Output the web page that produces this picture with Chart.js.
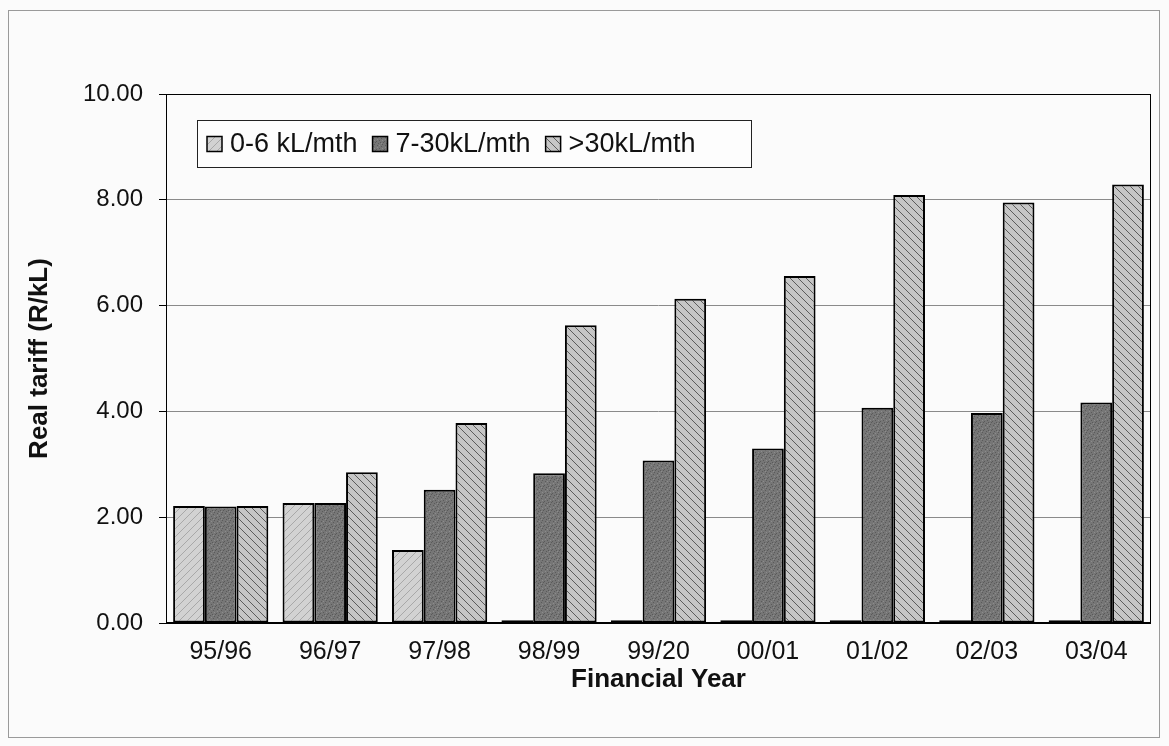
<!DOCTYPE html>
<html>
<head>
<meta charset="utf-8">
<script src="https://cdn.jsdelivr.net/npm/chart.js@4/dist/chart.umd.min.js"></script>
<style>
  html, body { margin: 0; padding: 0; background: #fbfbfb; }
  #wrap { width: 1169px; height: 746px; position: relative; }
</style>
</head>
<body>
<div id="wrap"><canvas id="c" width="1169" height="746"></canvas></div>
<script>
// Financial years and real tariff per consumption block (R/kL)
const years = ['95/96', '96/97', '97/98', '98/99', '99/20', '00/01', '01/02', '02/03', '03/04'];
const block0to6 = [2.21, 2.27, 1.38, 0.05, 0.05, 0.05, 0.05, 0.05, 0.05];
const block7to30 = [2.20, 2.27, 2.52, 2.83, 3.07, 3.30, 4.07, 3.97, 4.17];
const blockOver30 = [2.21, 2.85, 3.78, 5.63, 6.13, 6.56, 8.09, 7.95, 8.29];
const seriesNames = ['0-6 kL/mth', '7-30kL/mth', '>30kL/mth'];
const yTicks = [0, 2, 4, 6, 8, 10];

const FONT = '"Liberation Sans", Arial, sans-serif';

// Fill textures for the three bar series
function makePattern(kind) {
  const s = 8;
  const pc = document.createElement('canvas');
  pc.width = s; pc.height = s;
  const g = pc.getContext('2d');
  if (kind === 0) {
    g.fillStyle = '#d2d2d2'; g.fillRect(0, 0, s, s);
    g.strokeStyle = '#a8a8a8'; g.lineWidth = 1;
    g.beginPath(); g.moveTo(0, s); g.lineTo(s, 0); g.stroke();
  } else if (kind === 1) {
    g.fillStyle = '#767676'; g.fillRect(0, 0, s, s);
    const dots = [[1,1],[5,2],[3,4],[7,6],[2,7],[6,0],[0,5],[4,6]];
    g.fillStyle = '#5a5a5a';
    dots.forEach(([x, y]) => g.fillRect(x, y, 1, 1));
    g.fillStyle = '#8c8c8c';
    [[3,1],[6,4],[1,3],[5,7]].forEach(([x, y]) => g.fillRect(x, y, 1, 1));
  } else {
    g.fillStyle = '#c6c6c6'; g.fillRect(0, 0, s, s);
    g.strokeStyle = '#5c5c5c'; g.lineWidth = 1;
    g.beginPath(); g.moveTo(0, 0); g.lineTo(s, s); g.stroke();
    g.beginPath(); g.moveTo(-s / 2, s / 2); g.lineTo(s / 2, s * 1.5); g.stroke();
    g.beginPath(); g.moveTo(s / 2, -s / 2); g.lineTo(s * 1.5, s / 2); g.stroke();
  }
  return document.getElementById('c').getContext('2d').createPattern(pc, 'repeat');
}

const fills = [makePattern(0), makePattern(1), makePattern(2)];

// Outer frame, plot border and the boxed legend inside the plot area
const framePlugin = {
  id: 'frame',
  beforeDraw(chart) {
    const ctx = chart.ctx;
    ctx.save();
    ctx.fillStyle = '#fbfbfb';
    ctx.fillRect(0, 0, chart.width, chart.height);
    ctx.strokeStyle = '#9a9a9a';
    ctx.lineWidth = 1;
    ctx.strokeRect(8.5, 10.5, 1151, 727);
    ctx.restore();
  },
  afterDraw(chart) {
    const ctx = chart.ctx;
    const a = chart.chartArea;
    ctx.save();
    ctx.strokeStyle = '#000';
    ctx.lineWidth = 1;
    ctx.strokeRect(a.left + 0.5, a.top + 0.5, a.right - a.left - 1, a.bottom - a.top);
    ctx.lineWidth = 2;
    ctx.beginPath(); ctx.moveTo(a.left, a.bottom); ctx.lineTo(a.right, a.bottom); ctx.stroke();

    const bx = 197, by = 120, bw = 554, bh = 47;
    ctx.fillStyle = '#fdfdfd';
    ctx.fillRect(bx, by, bw, bh);
    ctx.lineWidth = 1;
    ctx.strokeStyle = '#222';
    ctx.strokeRect(bx + 0.5, by + 0.5, bw, bh);
    ctx.font = '27px ' + FONT;
    ctx.textBaseline = 'middle';
    let x = bx + 10;
    const cy = by + bh / 2 + 1;
    chart.data.datasets.forEach((ds) => {
      ctx.fillStyle = ds.backgroundColor;
      ctx.fillRect(x, cy - 8, 15, 15);
      ctx.strokeStyle = '#000';
      ctx.lineWidth = 1.5;
      ctx.strokeRect(x, cy - 8, 15, 15);
      x += 23;
      ctx.fillStyle = '#111';
      ctx.fillText(ds.label, x, cy);
      x += ctx.measureText(ds.label).width + 15;
    });
    ctx.restore();
  }
};

new Chart(document.getElementById('c'), {
  type: 'bar',
  data: {
    labels: years,
    datasets: [block0to6, block7to30, blockOver30].map((vals, i) => ({
      label: seriesNames[i],
      data: vals,
      backgroundColor: fills[i],
      borderColor: '#000',
      borderWidth: 2,
      borderSkipped: false,
      categoryPercentage: 0.87,
      barPercentage: 1.0
    }))
  },
  options: {
    responsive: false,
    animation: false,
    devicePixelRatio: 1,
    layout: { padding: { top: 94, right: 18, left: 0, bottom: 0 } },
    plugins: {
      legend: { display: false },
      tooltip: { enabled: false }
    },
    scales: {
      x: {
        grid: { display: false, drawTicks: false },
        border: { display: false },
        ticks: { color: '#111', font: { family: FONT, size: 25 }, padding: 14, maxRotation: 0 },
        title: {
          display: true, text: 'Financial Year', color: '#111',
          font: { family: FONT, size: 26, weight: 'bold' }, padding: { top: 0, bottom: 51 }
        },
        afterFit(s) { s.height = 746 - 623; }
      },
      y: {
        min: 0, max: 10,
        afterBuildTicks(s) { s.ticks = yTicks.map(v => ({ value: v })); },
        grid: {
          color: '#8a8a8a', lineWidth: 1,
          drawTicks: true, tickLength: 7, tickColor: '#000'
        },
        border: { display: false },
        ticks: {
          color: '#111', font: { family: FONT, size: 24 }, padding: 16,
          callback: v => Number(v).toFixed(2)
        },
        title: {
          display: true, text: 'Real tariff (R/kL)', color: '#111',
          font: { family: FONT, size: 26, weight: 'bold' }, padding: { top: 24, bottom: 0 }
        },
        afterFit(s) { s.width = 166; }
      }
    }
  },
  plugins: [framePlugin]
});
</script>
</body>
</html>
